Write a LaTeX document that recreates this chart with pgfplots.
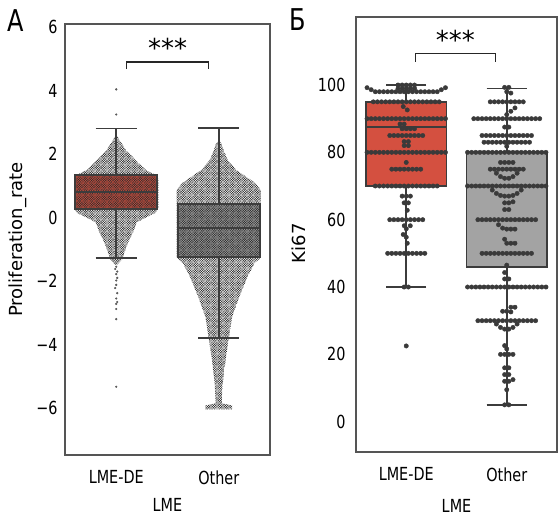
\documentclass[border=0pt]{standalone}
\usepackage{fontspec}
\setmainfont{DejaVu Sans}[FakeStretch=0.8]
\newfontfamily\plainfont{DejaVu Sans}
\usepackage{pgfplots}
\pgfplotsset{compat=1.18}
\usepgfplotslibrary{statistics}
\usetikzlibrary{patterns}

\definecolor{boxred}{RGB}{212,80,64}
\definecolor{boxgray}{RGB}{163,163,163}
\definecolor{edge}{RGB}{60,60,60}
\definecolor{dotc}{RGB}{58,58,58}
\definecolor{spine}{RGB}{85,85,85}

% dense swarm texture for panel A
\pgfdeclarepatternformonly{swarm}{\pgfqpoint{-0.5pt}{-0.5pt}}{\pgfqpoint{3pt}{3pt}}{\pgfqpoint{2.4pt}{2.4pt}}{%
  \pgfpathcircle{\pgfqpoint{0.6pt}{0.6pt}}{0.74pt}%
  \pgfpathcircle{\pgfqpoint{1.8pt}{1.8pt}}{0.74pt}%
  \pgfusepath{fill}}

\pgfplotsset{
  panel/.style={
    scale only axis,
    xmin=-0.5, xmax=1.5,
    xtick={0,1}, xticklabels={LME-DE,Other},
    axis line style={spine, line width=1.3bp},
    major tick length=0,
    tick label style={font=\fontsize{18bp}{21bp}\selectfont},
    xticklabel style={yshift=-12bp},
    xlabel={LME},
    xlabel style={font=\fontsize{18bp}{21bp}\selectfont, at={(axis description cs:0.5,-0.117)}, anchor=center},
    boxplot/draw direction=y,
  },
  bx/.style={draw=edge, line width=1.7bp},
}

\begin{document}
\begin{tikzpicture}
\path[use as bounding box] (0,0) rectangle (558bp,516bp);

\node[font=\fontsize{30bp}{32bp}\selectfont] at (16bp,495bp) {А};
\node[font=\fontsize{30bp}{32bp}\selectfont] at (298bp,496bp) {Б};

% ---------------- panel A ----------------
\begin{axis}[panel,
  at={(65bp,61bp)}, anchor=south west,
  width=205bp, height=431bp,
  ymin=-7.48, ymax=6.1,
  ytick={-6,-4,-2,0,2,4,6},
  yticklabels={−6,−4,−2,0,2,4,6},
  yticklabel style={xshift=-4bp},
  ylabel={Proliferation\_rate},
  ylabel style={font=\plainfont\fontsize{18bp}{21bp}\selectfont, at={(axis description cs:-0.232,0.5)}, anchor=center},
]
\addplot[bx, fill=boxred, boxplot prepared={draw position=0, lower whisker=-1.27, lower quartile=0.26,
  median=0.80, upper quartile=1.34, upper whisker=2.81, box extend=0.8, whisker extend=0.4}] coordinates {};
\addplot[bx, fill=boxgray, boxplot prepared={draw position=1, lower whisker=-3.79, lower quartile=-1.25,
  median=-0.32, upper quartile=0.43, upper whisker=2.83, box extend=0.8, whisker extend=0.4}] coordinates {};

% swarm envelopes
\addplot[draw=none, pattern=swarm, pattern color=black!82] coordinates {
 (0,2.62) (0.03,2.45) (0.06,2.3) (0.10,2.1) (0.15,1.95) (0.19,1.8) (0.25,1.62) (0.29,1.5)
 (0.35,1.4) (0.40,1.33) (0.41,1.2) (0.41,0.3) (0.38,0.14) (0.3,0.02) (0.2,-0.15) (0.16,-0.5)
 (0.12,-0.75) (0.08,-1.1) (0.06,-1.3) (0.02,-1.45) (0,-1.5) (-0.02,-1.45) (-0.06,-1.3)
 (-0.08,-1.1) (-0.12,-0.75) (-0.16,-0.5) (-0.2,-0.15) (-0.3,0.02) (-0.38,0.14) (-0.41,0.3)
 (-0.41,1.2) (-0.40,1.33) (-0.35,1.4) (-0.29,1.5) (-0.25,1.62) (-0.19,1.8) (-0.15,1.95)
 (-0.10,2.1) (-0.06,2.3) (-0.03,2.45)} -- cycle;
\addplot[draw=none, pattern=swarm, pattern color=black!82] coordinates {
 (1,2.45) (1.03,2.3) (1.05,2.1) (1.09,1.8) (1.17,1.5) (1.27,1.28) (1.36,1.08) (1.41,0.87)
 (1.41,-1.27) (1.35,-1.43) (1.28,-1.87) (1.2,-2.5) (1.13,-3.13) (1.1,-3.76) (1.07,-4.4)
 (1.04,-5.2) (1.03,-5.85) (1.13,-5.92) (1.13,-6.04) (0.87,-6.04) (0.87,-5.92) (0.97,-5.85)
 (0.96,-5.2) (0.93,-4.4) (0.9,-3.76) (0.87,-3.13) (0.8,-2.5) (0.72,-1.87) (0.65,-1.43)
 (0.59,-1.27) (0.59,0.87) (0.64,1.08) (0.73,1.28) (0.83,1.5) (0.91,1.8) (0.95,2.1) (0.97,2.3)} -- cycle;

% sparse points outside the dense swarm
\addplot[only marks, mark=*, mark size=0.9bp, color=black!65] coordinates {
 (0,4.04) (0,3.25) (0,-1.55) (-0.01,-1.62) (0.01,-1.7) (0,-1.78) (0.01,-1.9) (0,-1.98)
 (0,-2.12) (-0.01,-2.22) (0.01,-2.38) (0,-2.55) (0.01,-2.66) (0,-2.72) (0,-2.88) (0,-3.2) (0,-5.33)};

% box outlines on top
\addplot[bx, boxplot prepared={draw position=0, lower whisker=-1.27, lower quartile=0.26,
  median=0.80, upper quartile=1.34, upper whisker=2.81, box extend=0.8, whisker extend=0.4}] coordinates {};
\addplot[bx, boxplot prepared={draw position=1, lower whisker=-3.79, lower quartile=-1.25,
  median=-0.32, upper quartile=0.43, upper whisker=2.83, box extend=0.8, whisker extend=0.4}] coordinates {};

\addplot[black!85, line width=1.4bp] coordinates {(0.1,4.68) (0.1,4.9) (0.9,4.9) (0.9,4.68)};
\node[font=\plainfont\fontsize{26bp}{28bp}\selectfont] at (axis cs:0.5,5.35) {***};
\end{axis}

% ---------------- panel B ----------------
\begin{axis}[panel,
  at={(356bp,64bp)}, anchor=south west,
  width=201bp, height=435bp,
  ymin=-9, ymax=120.2,
  ytick={0,20,40,60,80,100},
  yticklabels={0,20,40,60,80,100},
  yticklabel style={xshift=-7bp},
  ylabel={Ki67},
  ylabel style={font=\plainfont\fontsize{18bp}{21bp}\selectfont, at={(axis description cs:-0.284,0.48)}, anchor=center},
  xlabel style={at={(axis description cs:0.5,-0.123)}},
]
\addplot[bx, fill=boxred, boxplot prepared={draw position=0, lower whisker=40, lower quartile=70,
  median=87.5, upper quartile=95, upper whisker=100, box extend=0.8, whisker extend=0.4}] coordinates {};
\addplot[bx, fill=boxgray, boxplot prepared={draw position=1, lower whisker=5, lower quartile=46,
  median=70, upper quartile=80, upper whisker=99, box extend=0.8, whisker extend=0.4}] coordinates {};

% LME-DE swarm
\addplot[only marks, mark=*, mark size=2.2bp, mark options={fill=dotc, draw=dotc}] coordinates {
 (-0.082,100) (-0.041,100) (0,100) (0.041,100) (0.082,100)
 (-0.082,99) (-0.041,99) (0,99) (0.041,99) (0.082,99)
 (-0.390,99.2) (-0.349,98.6) (-0.308,98) (-0.267,98) (-0.226,98) (-0.185,98) (-0.144,98) (-0.103,98)
 (-0.062,98) (-0.021,98) (0.021,98) (0.062,98) (0.103,98) (0.144,98) (0.185,98) (0.226,98)
 (0.267,98) (0.308,98) (0.349,98.6) (0.390,99.2)
 (-0.328,95) (-0.287,95) (-0.246,95) (-0.205,95) (-0.164,95) (-0.123,95) (-0.082,95) (-0.041,95) (0,95)
 (0.041,95) (0.082,95) (0.123,95) (0.164,95) (0.205,95) (0.246,95) (0.287,95) (0.328,95)
 (-0.03,93.6) (0.01,92.6)
 (-0.390,90) (-0.349,90) (-0.308,90) (-0.267,90) (-0.226,90) (-0.185,90) (-0.144,90) (-0.103,90)
 (-0.062,90) (-0.021,90) (0.021,90) (0.062,90) (0.103,90) (0.144,90) (0.185,90) (0.226,90)
 (0.267,90) (0.308,90) (0.349,90) (0.390,90)
 (-0.062,88.4) (-0.021,88.4)
 (-0.041,87) (0,87) (0.041,87) (0.082,87)
 (-0.164,85) (-0.123,85) (-0.082,85) (-0.041,85) (0,85) (0.041,85) (0.082,85) (0.123,85) (0.164,85)
 (-0.021,83.2) (0.021,83.2) (-0.021,82) (0.021,82)
 (-0.390,80) (-0.349,80) (-0.308,80) (-0.267,80) (-0.226,80) (-0.185,80) (-0.144,80) (-0.103,80)
 (-0.062,80) (-0.021,80) (0.021,80) (0.062,80) (0.103,80) (0.144,80) (0.185,80) (0.226,80)
 (0.267,80) (0.308,80) (0.349,80) (0.390,80)
 (0,77)
 (-0.144,75) (-0.103,75) (-0.062,75) (-0.021,75) (0.021,75) (0.062,75) (0.103,75) (0.144,75)
 (-0.308,70) (-0.267,70) (-0.226,70) (-0.185,70) (-0.144,70) (-0.103,70) (-0.062,70) (-0.021,70)
 (0.021,70) (0.062,70) (0.103,70) (0.144,70) (0.185,70) (0.226,70) (0.267,70) (0.308,70)
 (-0.041,67) (0,67) (0.041,67)
 (-0.021,65) (0.021,65) (0.01,62.8)
 (-0.164,60) (-0.123,60) (-0.082,60) (-0.041,60) (0,60) (0.041,60) (0.082,60) (0.123,60) (0.164,60)
 (-0.02,58.2) (0.04,58.2) (0,57.3)
 (-0.03,55.6) (0,54.8) (0.01,53)
 (-0.185,50) (-0.144,50) (-0.103,50) (-0.062,50) (-0.021,50) (0.021,50) (0.062,50) (0.103,50)
 (0.144,50) (0.185,50)
 (-0.021,40) (0.021,40)
 (0,22.5)};

% Other swarm
\addplot[only marks, mark=*, mark size=2.2bp, mark options={fill=dotc, draw=dotc}] coordinates {
 (0.979,99.3) (1.021,99.3) (1,98) (1.041,97.6)
 (0.836,95) (0.877,95) (0.918,95) (0.959,95) (1,95) (1.041,95) (1.082,95) (1.123,95) (1.164,95)
 (1,91.2) (1.041,92.2) (1.082,93.2)
 (0.672,90) (0.713,90) (0.754,90) (0.795,90) (0.836,90) (0.877,90) (0.918,90) (0.959,90) (1,90)
 (1.041,90) (1.082,90) (1.123,90) (1.164,90) (1.205,90) (1.246,90) (1.287,90) (1.328,90)
 (0.979,87.5) (1.021,87.5)
 (0.754,85) (0.795,85) (0.836,85) (0.877,85) (0.918,85) (0.959,85) (1,85) (1.041,85) (1.082,85)
 (1.123,85) (1.164,85) (1.205,85) (1.246,85)
 (0.774,83) (0.815,83) (0.856,83) (0.897,83) (0.938,83) (0.979,83) (1.021,83) (1.062,83) (1.103,83)
 (1.144,83) (1.185,83) (1.226,83)
 (1,81.8)
 (0.610,80) (0.651,80) (0.692,80) (0.733,80) (0.774,80) (0.815,80) (0.856,80) (0.897,80) (0.938,80)
 (0.979,80) (1.021,80) (1.062,80) (1.103,80) (1.144,80) (1.185,80) (1.226,80) (1.267,80) (1.308,80)
 (1.349,80) (1.390,80)
 (0.938,77) (0.979,77) (1.021,77) (1.062,77)
 (0.836,75) (0.877,75) (0.918,75) (0.959,75) (1,75) (1.041,75) (1.082,75) (1.123,75) (1.164,75)
 (0.897,73.8) (0.938,72.8) (0.979,72.3) (1.021,72.3) (1.062,72.8) (1.103,73.8)
 (0.610,70) (0.651,70) (0.692,70) (0.733,70) (0.774,70) (0.815,70) (0.856,70) (0.897,70) (0.938,70)
 (0.979,70) (1.021,70) (1.062,70) (1.103,70) (1.144,70) (1.185,70) (1.226,70) (1.267,70) (1.308,70)
 (1.349,70) (1.390,70)
 (0.856,68.8) (0.897,67.8) (0.938,67.2) (0.979,67) (1.021,67) (1.062,67.2) (1.103,67.8) (1.144,68.8)
 (0.979,65) (1.021,65) (1.062,65.3) (0.979,63) (1.021,63)
 (0.713,60) (0.754,60) (0.795,60) (0.836,60) (0.877,60) (0.918,60) (0.959,60) (1,60) (1.041,60)
 (1.082,60) (1.123,60) (1.164,60) (1.205,60) (1.246,60) (1.287,60)
 (0.918,58.5) (0.959,57.5) (1,57.2) (1.041,57.2) (1.082,57.2)
 (0.979,54.2) (1,53) (1.041,53) (1.082,53)
 (0.754,50) (0.795,50) (0.836,50) (0.877,50) (0.918,50) (0.959,50) (1,50) (1.041,50) (1.082,50)
 (1.123,50) (1.164,50) (1.205,50) (1.246,50)
 (1,46.5) (0.979,44.3) (0.979,42.4) (1.021,42.4)
 (0.610,40) (0.651,40) (0.692,40) (0.733,40) (0.774,40) (0.815,40) (0.856,40) (0.897,40) (0.938,40)
 (0.979,40) (1.021,40) (1.062,40) (1.103,40) (1.144,40) (1.185,40) (1.226,40) (1.267,40) (1.308,40)
 (1.349,40) (1.390,40)
 (1.041,34) (1.082,34) (0.959,32.8) (1,32.8) (1.041,32.6)
 (0.713,30) (0.754,30) (0.795,30) (0.836,30) (0.877,30) (0.918,30) (0.959,30) (1,30) (1.041,30)
 (1.082,30) (1.123,30) (1.164,30) (1.205,30) (1.246,30) (1.287,30)
 (0.897,29) (0.938,28) (0.979,27.5) (1.021,27.5) (1.062,28) (1.103,29)
 (0.979,22.6) (1,21.6)
 (0.938,20) (0.979,20) (1.021,20) (1.062,20)
 (0.979,16) (1.021,16) (0.979,14) (1.021,14)
 (0.979,12) (1.021,12) (1.062,12.5) (1,9.5) (0.979,5) (1.021,5)};

\addplot[black!85, line width=1.4bp] coordinates {(0.09,106.9) (0.09,109.4) (0.89,109.4) (0.89,106.9)};
\node[font=\plainfont\fontsize{26bp}{28bp}\selectfont] at (axis cs:0.49,113.5) {***};
\end{axis}
\end{tikzpicture}
\end{document}
